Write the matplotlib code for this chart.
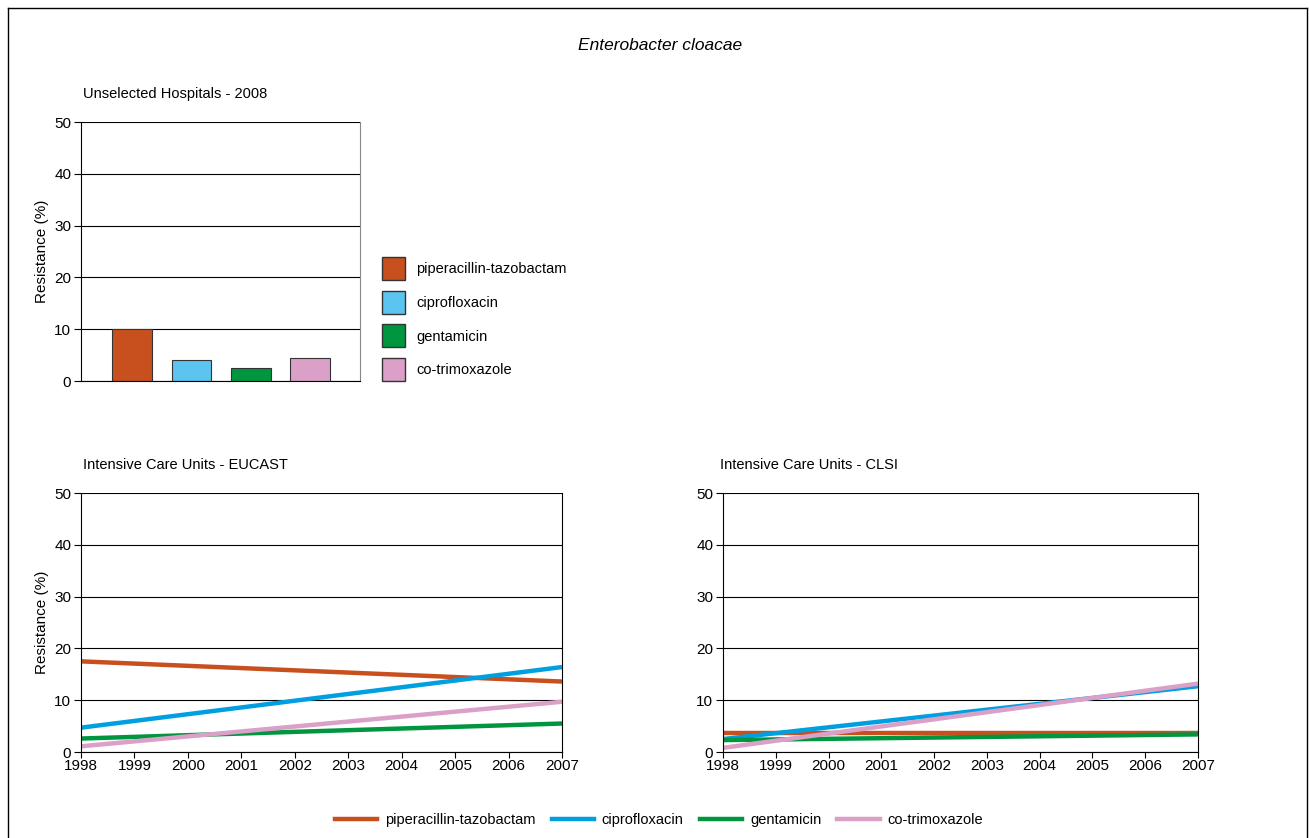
import matplotlib
matplotlib.use('Agg')
import matplotlib.pyplot as plt
from matplotlib.patches import Patch
from matplotlib.lines import Line2D

plt.rcParams['font.family'] = ['Liberation Sans', 'DejaVu Sans']

# data
drugs = ['piperacillin-tazobactam', 'ciprofloxacin', 'gentamicin', 'co-trimoxazole']
bar_colors = ['#C8501E', '#5BC5F0', '#009640', '#DBA0C8']
line_colors = ['#C8501E', '#00A0E0', '#009640', '#DBA0C8']

unselected_2008 = [10.1, 4.0, 2.5, 4.5]

trend_years = [1998, 2007]
eucast = {
    'piperacillin-tazobactam': [17.5, 13.6],
    'ciprofloxacin': [4.7, 16.4],
    'gentamicin': [2.6, 5.5],
    'co-trimoxazole': [1.1, 9.7],
}
clsi = {
    'piperacillin-tazobactam': [3.6, 3.6],
    'ciprofloxacin': [2.5, 12.7],
    'gentamicin': [2.3, 3.4],
    'co-trimoxazole': [0.8, 13.2],
}
year_ticks = list(range(1998, 2008))

FS = 10.5

W, H = 1309, 838
fig = plt.figure(figsize=(W / 100, H / 100), dpi=100)


def fx(px):
    return px / W


def fy(py):
    return 1 - py / H


# frame around the figure
fig.add_artist(Line2D([fx(8), fx(8)], [0, fy(8)], color='black', lw=1))
fig.add_artist(Line2D([fx(8), fx(1307)], [fy(8), fy(8)], color='black', lw=1))
fig.add_artist(Line2D([fx(1307), fx(1307)], [0, fy(8)], color='black', lw=1))

fig.text(fx(660), fy(46), 'Enterobacter cloacae', ha='center', va='center',
         fontsize=12.5, style='italic')


def style_axes(ax, ylabel=True):
    ax.set_ylim(0, 50)
    ax.set_yticks([0, 10, 20, 30, 40, 50])
    ax.yaxis.grid(True, color='black', lw=0.8)
    ax.set_axisbelow(True)
    ax.spines['top'].set_visible(False)
    ax.spines['left'].set_color('black')
    ax.spines['bottom'].set_color('black')
    ax.tick_params(axis='y', length=5, width=0.8, labelsize=FS + 0.5, pad=2)
    if ylabel:
        ax.set_ylabel('Resistance (%)', fontsize=FS + 0.5, labelpad=4)


# top: bar chart
ax1 = fig.add_axes([fx(81), fy(381), fx(279), (381 - 122) / H])
ax1.bar(range(len(drugs)), unselected_2008, width=0.67, color=bar_colors,
        edgecolor='#333333', linewidth=0.8)
ax1.set_xlim(-0.86, 3.84)
ax1.set_xticks([])
style_axes(ax1)
ax1.spines['right'].set_color('#888888')
ax1.text(0.008, 1.11, 'Unselected Hospitals - 2008', transform=ax1.transAxes,
         fontsize=FS, ha='left', va='center')
ax1.tick_params(axis='x', bottom=False)

handles = [Patch(facecolor=c, edgecolor='#333333', label=d)
           for c, d in zip(bar_colors, drugs)]
fig.legend(handles=handles, loc='upper left',
           bbox_to_anchor=(fx(369), fy(244)), frameon=False, fontsize=FS,
           handlelength=1.58, handleheight=2.05, labelspacing=0.73,
           handletextpad=0.75)


def line_panel(ax, data, title, ylabel):
    for d, c in zip(drugs, line_colors):
        ax.plot(trend_years, data[d], color=c, lw=3.2, solid_capstyle='butt')
    ax.set_xlim(1998, 2007)
    ax.set_xticks(year_ticks)
    ax.tick_params(axis='x', length=4, width=0.8, labelsize=FS + 0.5, pad=1)
    style_axes(ax, ylabel)
    ax.text(0.005, 1.11, title, transform=ax.transAxes, fontsize=FS,
            ha='left', va='center')


ax2 = fig.add_axes([fx(81), fy(752), fx(481), (752 - 493) / H])
line_panel(ax2, eucast, 'Intensive Care Units - EUCAST', True)

ax3 = fig.add_axes([fx(723), fy(752), fx(475), (752 - 493) / H])
line_panel(ax3, clsi, 'Intensive Care Units - CLSI', False)
ax3.texts[0].set_x(-0.006)

line_handles = [Line2D([0], [0], color=c, lw=3.2, label=d)
                for c, d in zip(line_colors, drugs)]
fig.legend(handles=line_handles, loc='center', ncol=4,
           bbox_to_anchor=(fx(659), fy(820)), frameon=False, fontsize=FS,
           handlelength=2.9, columnspacing=1.1, handletextpad=0.55)

fig.savefig('out.png', dpi=100)
